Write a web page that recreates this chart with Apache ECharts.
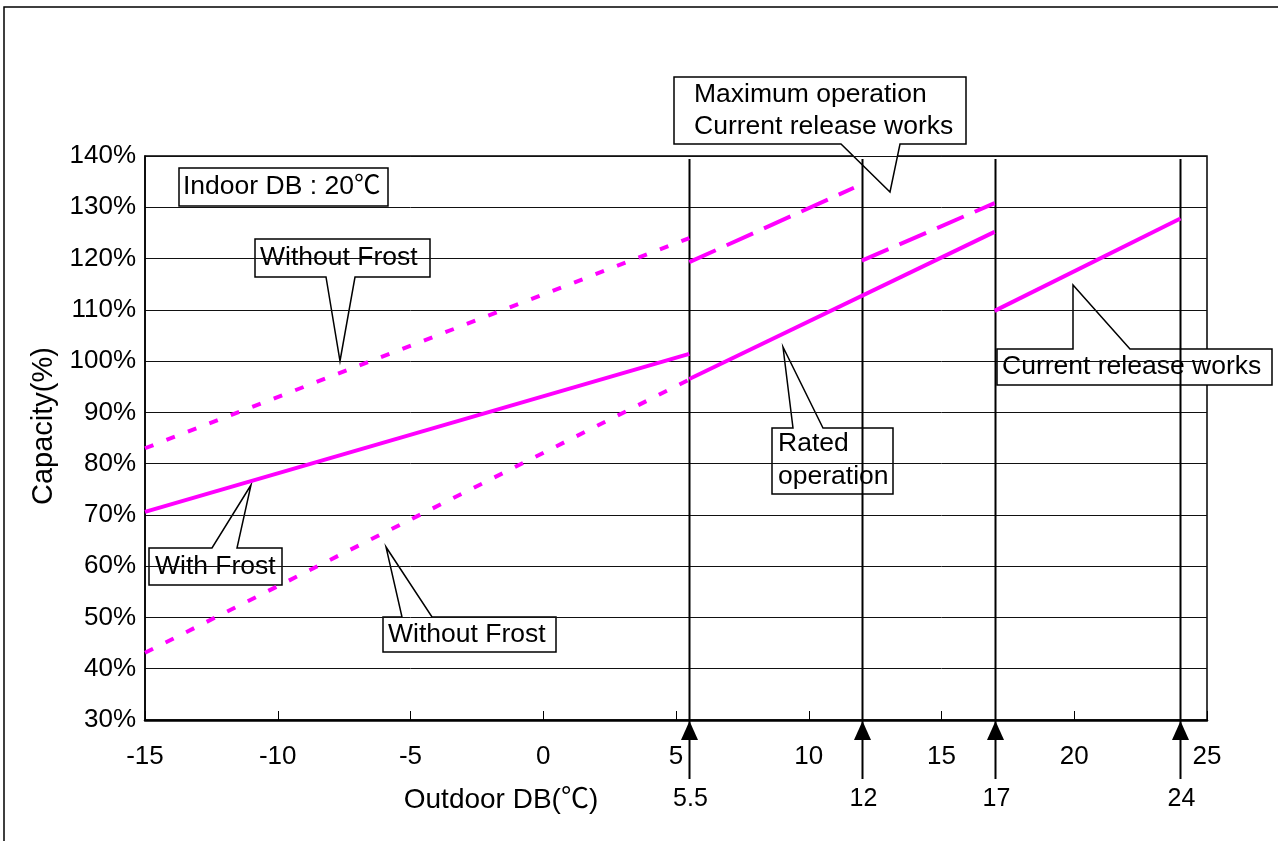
<!DOCTYPE html>
<html>
<head>
<meta charset="utf-8">
<script src="https://cdn.jsdelivr.net/npm/echarts@6/dist/echarts.min.js"></script>
<style>
html,body{margin:0;padding:0;background:#fff;}
#chart{width:1278px;height:841px;}
</style>
</head>
<body>
<div id="chart"></div>
<script>
// ---- data ----
const xMin = -15, xMax = 25, xStep = 5;
const yMin = 30, yMax = 140, yStep = 10;
const boundaryTemps = [5.5, 12, 17, 24];
const boundaryLabels = ['5.5', '12', '17', '24'];
const withoutFrostUpper = [[-15, 83.0], [5.5, 124.0]];
const withFrost = [[-15, 70.6], [5.5, 101.4]];
const withoutFrostLower = [[-15, 43.1], [5.5, 96.4]];
const ratedOperation = [[5.5, 96.5], [17, 125.2]];
const maxOperationA = [[5.5, 119.3], [11.7, 133.8]];
const maxOperationB = [[12, 119.6], [17, 130.8]];
const currentRelease = [[17, 109.8], [24, 127.8]];
const boundaryTop = 139.4;

// ---- styles ----
const FONT = '"Liberation Sans", Arial, "Noto Sans CJK JP", sans-serif';
const MAGENTA = '#ff00ff';
const dotted = [9, 14];
const dashed = [29, 12];

function lineSeries(name, data, type) {
  return {
    name: name, type: 'line', data: data, symbol: 'none', silent: true, z: 3,
    lineStyle: { color: MAGENTA, width: 4, type: type, cap: 'butt' }
  };
}

function callout(points, lines, tx, ty, lh) {
  const children = [{
    type: 'polygon',
    shape: { points: points },
    style: { fill: '#fff', stroke: '#000', lineWidth: 1.5 }
  }];
  lines.forEach((t, i) => {
    children.push({
      type: 'text',
      style: { text: t, x: tx, y: ty + i * lh, fontSize: 26.5, fontFamily: FONT, fill: '#000',
               align: 'left', verticalAlign: 'middle' }
    });
  });
  return { type: 'group', z: 100, silent: true, children: children };
}

const chart = echarts.init(document.getElementById('chart'), null, { renderer: 'canvas' });
chart.setOption({
  animation: false,
  backgroundColor: '#fff',
  grid: { left: 145, right: 71, top: 156, bottom: 121, show: true, borderColor: '#000', borderWidth: 1.5,
          containLabel: false, outerBoundsMode: 'none' },
  xAxis: {
    type: 'value', min: xMin, max: xMax, interval: xStep,
    axisLine: { show: true, onZero: false, lineStyle: { color: '#000', width: 2.5 } },
    axisTick: { show: true, inside: true, length: 9, lineStyle: { color: '#000', width: 1 } },
    axisLabel: { color: '#000', fontSize: 26, fontFamily: FONT, margin: 24 },
    splitLine: { show: false },
    name: 'Outdoor DB(℃)', nameLocation: 'middle', nameGap: 66,
    nameTextStyle: { color: '#000', fontSize: 28, fontFamily: FONT, padding: [0, 350, 0, 0] }
  },
  yAxis: {
    type: 'value', min: yMin, max: yMax, interval: yStep,
    axisLine: { show: true, onZero: false, lineStyle: { color: '#000', width: 1.5 } },
    axisTick: { show: false },
    axisLabel: { color: '#000', fontSize: 26, fontFamily: FONT, margin: 9, formatter: '{value}%' },
    splitLine: { show: true, lineStyle: { color: '#111', width: 1 } },
    name: 'Capacity(%)', nameLocation: 'middle', nameGap: 86,
    nameTextStyle: { color: '#000', fontSize: 29, fontFamily: FONT, padding: [0, 0, 0, 24] }
  },
  series: [
    {
      type: 'custom', coordinateSystem: 'cartesian2d', clip: false, silent: true, z: 2,
      data: boundaryTemps.map(t => [t, yMin]),
      renderItem: function (params, api) {
        const x = api.value(0);
        const top = api.coord([x, boundaryTop]);
        const base = api.coord([x, yMin]);
        const px = Math.round(top[0]) + 0.5, by = base[1];
        return {
          type: 'group',
          children: [
            { type: 'line', shape: { x1: px, y1: top[1], x2: px, y2: by + 59 },
              style: { stroke: '#000', lineWidth: 2 } },
            { type: 'polygon', shape: { points: [[px, by + 1], [px - 8.5, by + 20], [px + 8.5, by + 20]] },
              style: { fill: '#000' } },
            { type: 'text', style: { text: boundaryLabels[params.dataIndex], x: px + 1, y: by + 79,
              align: 'center', verticalAlign: 'middle', fontSize: 25, fontFamily: FONT, fill: '#000' } }
          ]
        };
      }
    },
    lineSeries('Without Frost (upper)', withoutFrostUpper, dotted),
    lineSeries('With Frost', withFrost, 'solid'),
    lineSeries('Without Frost (lower)', withoutFrostLower, dotted),
    lineSeries('Rated operation', ratedOperation, 'solid'),
    lineSeries('Maximum operation A', maxOperationA, dashed),
    lineSeries('Maximum operation B', maxOperationB, dashed),
    lineSeries('Current release works', currentRelease, 'solid')
  ],
  graphic: [
    { type: 'rect', z: -10, silent: true, shape: { x: 4, y: 7, width: 1400, height: 1000 },
      style: { fill: 'none', stroke: '#000', lineWidth: 1.5 } },
    callout([[179,168],[388,168],[388,206],[179,206]], ['Indoor DB : 20℃'], 183, 187, 0),
    callout([[255,239],[430,239],[430,277],[355,277],[340,361],[326,277],[255,277]], ['Without Frost'], 260, 258, 0),
    callout([[149,548],[212,548],[251,485],[237,548],[282,548],[282,585],[149,585]], ['With Frost'], 155, 567, 0),
    callout([[383,617],[402,617],[386,547],[432,617],[556,617],[556,652],[383,652]], ['Without Frost'], 388, 635, 0),
    callout([[772,428],[793,428],[783,347],[823,428],[893,428],[893,494],[772,494]], ['Rated', 'operation'], 778, 444, 33),
    callout([[674,77],[966,77],[966,144],[900,144],[890,192],[841,144],[674,144]], ['Maximum operation', 'Current release works'], 694, 95, 32),
    callout([[997,349],[1073,349],[1073,285],[1130,349],[1272,349],[1272,385],[997,385]], ['Current release works'], 1002, 367, 0)
  ]
});
</script>
</body>
</html>
